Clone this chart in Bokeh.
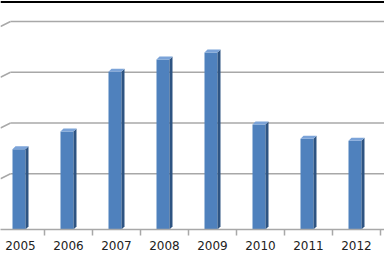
from bokeh.plotting import figure
from bokeh.models import Range1d, FixedTicker, Span
from bokeh.embed import file_html
from bokeh.resources import INLINE

years = [2005, 2006, 2007, 2008, 2009, 2010, 2011, 2012]
values = [1.58, 1.93, 3.11, 3.35, 3.49, 2.07, 1.79, 1.75]
tick_labels = ["2005", "2006", "2007", "2008", "2009", "2010", "2011", "2012"]
grid_values = [1, 2, 3, 4]

PX_X = 48.0      # px per category
PX_Y = 50.75     # px per value unit
FRAME_H = 229

x0 = years[0] - 20 / PX_X
p = figure(width=384, height=260, output_backend="svg", toolbar_location=None,
           x_range=Range1d(x0, x0 + 384 / PX_X),
           y_range=Range1d(0, FRAME_H / PX_Y),
           min_border_left=0, min_border_right=0, min_border_top=0,
           min_border_bottom=260 - FRAME_H)
p.outline_line_color = None
p.yaxis.visible = False
p.xgrid.visible = False
p.ygrid.visible = False
p.background_fill_color = "white"
p.border_fill_color = "white"

# 3D depth offsets
dx = 3 / PX_X
dy = 5 / PX_Y
slant_x = 10 / PX_X

# back-wall gridlines with slanted left edge
gy = [g + dy for g in grid_values]
p.segment(x0=[x0 + slant_x] * len(gy), y0=gy, x1=[x0 + 384 / PX_X] * len(gy), y1=gy,
          line_color="#a8a8a8", line_width=1.5)
p.segment(x0=[x0] * len(gy), y0=grid_values, x1=[x0 + slant_x] * len(gy), y1=gy,
          line_color="#a8a8a8", line_width=1.5)

# top black border line
p.add_layout(Span(location=FRAME_H / PX_Y - 1.5 / PX_Y, dimension="width",
                  line_color="black", line_width=2))

# bars
w = 13 / PX_X
off = -1.5 / PX_X
xs_front = [y + off for y in years]
p.vbar(x=xs_front, top=values, bottom=0, width=w, fill_color="#4F81BD", line_color=None)

sd = 3 / PX_Y
side_xs, side_ys, top_xs, top_ys = [], [], [], []
for xc, v in zip(xs_front, values):
    xl = xc - w / 2
    xr = xc + w / 2
    side_xs.append([xr, xr + dx, xr + dx, xr])
    side_ys.append([0, sd, v + sd, v])
    top_xs.append([xl, xr, xr + dx, xl + dx])
    top_ys.append([v, v, v + sd, v + sd])
p.patches(xs=side_xs, ys=side_ys, fill_color="#2E5482", line_color=None)
p.patches(xs=top_xs, ys=top_ys, fill_color="#7BA3D8", line_color=None)

# x axis
ax = p.xaxis[0]
ax.ticker = FixedTicker(ticks=years, minor_ticks=[y + 0.5 for y in years[:-1]] + [years[-1] + 0.5])
ax.major_label_overrides = {y: t for y, t in zip(years, tick_labels)}
ax.axis_line_color = "#a8a8a8"
ax.axis_line_width = 1.5
ax.major_tick_out = 0
ax.major_tick_in = 0
ax.minor_tick_out = 6
ax.minor_tick_in = 0
ax.minor_tick_line_color = "#a8a8a8"
ax.minor_tick_line_width = 1.5
ax.major_label_standoff = 5
ax.major_label_text_font = "DejaVu Sans"
ax.major_label_text_font_size = "12px"
ax.major_label_text_color = "#222222"

open("out.html", "w").write(file_html(p, INLINE))
